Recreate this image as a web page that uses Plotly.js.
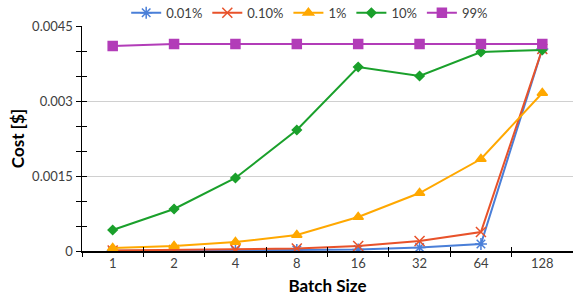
<!DOCTYPE html>
<html>
<head>
<meta charset="utf-8">
<script src="https://cdn.plot.ly/plotly-3.0.1.min.js"></script>
<style>html,body{margin:0;padding:0;background:#fff;}#chart{width:573px;height:298px;}</style>
</head>
<body>
<div id="chart"></div>
<script>
const batchSizes = ['1', '2', '4', '8', '16', '32', '64', '128'];
const seriesNames = ['0.01%', '0.10%', '1%', '10%', '99%'];
const cost001 = [0.000003, 0.000005, 0.00001, 0.00002, 0.00003, 0.00007, 0.00014, 0.00404];
const cost010 = [0.00001, 0.00002, 0.00003, 0.00005, 0.0001, 0.0002, 0.00038, 0.00404];
const cost1 = [0.00006, 0.0001, 0.00018, 0.00032, 0.00068, 0.00116, 0.00184, 0.00316];
const cost10 = [0.00042, 0.00084, 0.00146, 0.00242, 0.00368, 0.0035, 0.00398, 0.00402];
const cost99 = [0.0041, 0.00414, 0.00414, 0.00414, 0.00414, 0.00414, 0.00414, 0.00414];
const yMax = 0.0045;
const yStep = 0.0015;
const yMinorStep = 0.0005;

const allSeries = [cost001, cost010, cost1, cost10, cost99];
const colors = ['#4a7fd8', '#e8522a', '#ffa800', '#1aa02b', '#b23cb8'];
const symbols = ['asterisk-open', 'x-thin-open', 'triangle-up', 'diamond', 'square'];
const sizes = [10, 10, 9, 7, 9];

const FONT = 'Lato, "Open Sans", sans-serif';

const traces = allSeries.map((vals, i) => ({
  x: batchSizes, y: vals, name: seriesNames[i], type: 'scatter', mode: 'lines+markers',
  line: {color: colors[i], width: 2},
  marker: {symbol: symbols[i], size: sizes[i], color: colors[i], line: {color: colors[i], width: 1.5}},
  xaxis: 'x', yaxis: 'y'
}));
// overlay axes for crossing tick marks
traces.push({x: batchSizes, y: batchSizes.map(() => null), xaxis: 'x2', yaxis: 'y2', showlegend: false, hoverinfo: 'skip', type: 'scatter', mode: 'lines'});

const layout = {
  width: 573, height: 298,
  margin: {l: 82, r: 0, t: 26, b: 47, autoexpand: false},
  paper_bgcolor: '#fff', plot_bgcolor: '#fff',
  font: {family: FONT, size: 13, color: '#404040'},
  showlegend: true,
  legend: {orientation: 'h', x: 0.09, xanchor: 'left', y: 1.125, yanchor: 'top', font: {size: 13, color: '#404040'}, itemwidth: 30, tracegroupgap: 0},
  xaxis: {
    type: 'category', categoryorder: 'array', categoryarray: batchSizes, range: [-0.5, 7.5],
    tickson: 'boundaries', ticks: 'outside', ticklen: 4, tickcolor: '#000', tickwidth: 1,
    showline: true, linecolor: '#000', linewidth: 1.5, showgrid: false, zeroline: false,
    tickfont: {size: 13, color: '#404040'},
    title: {text: 'Batch Size', font: {size: 17, color: '#000', family: FONT, weight: 'bold'}, standoff: 10}
  },
  xaxis2: {
    type: 'category', categoryorder: 'array', categoryarray: batchSizes, range: [-0.5, 7.5],
    overlaying: 'x', anchor: 'y2', tickson: 'boundaries', ticks: 'inside', ticklen: 4, tickcolor: '#000',
    showticklabels: false, showline: false, showgrid: false, zeroline: false
  },
  yaxis: {
    range: [0, yMax], tickmode: 'linear', tick0: 0, dtick: yStep,
    ticks: 'outside', ticklen: 5, tickcolor: '#000',
    minor: {dtick: yMinorStep, tick0: 0, ticks: 'outside', ticklen: 5, tickcolor: '#000', showgrid: false},
    showline: true, linecolor: '#000', linewidth: 1.5, showgrid: true, gridcolor: '#d0d0d0', gridwidth: 1, zeroline: false,
    tickfont: {size: 13, color: '#404040'},
    title: {text: 'Cost [$]', font: {size: 17, color: '#000', family: FONT, weight: 'bold'}, standoff: 3}
  },
  yaxis2: {
    range: [0, yMax], overlaying: 'y', anchor: 'x2', side: 'left',
    tickmode: 'linear', tick0: 0, dtick: yStep, ticks: 'inside', ticklen: 5, tickcolor: '#000',
    minor: {dtick: yMinorStep, tick0: 0, ticks: 'inside', ticklen: 5, tickcolor: '#000', showgrid: false},
    showticklabels: false, showline: false, showgrid: false, zeroline: false
  }
};

Plotly.newPlot('chart', traces, layout, {staticPlot: true, displayModeBar: false});
</script>
</body>
</html>
